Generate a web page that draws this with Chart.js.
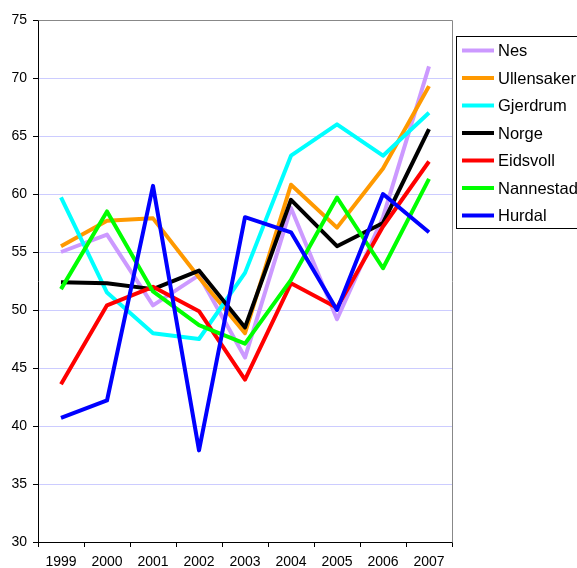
<!DOCTYPE html>
<html>
<head>
<meta charset="utf-8">
<script src="https://cdn.jsdelivr.net/npm/chart.js@4"></script>
<style>
  html, body { margin: 0; padding: 0; background: #fff; overflow: hidden; }
  #wrap { width: 577px; height: 568px; }
</style>
</head>
<body>
<div id="wrap"><canvas id="chart" width="577" height="568"></canvas></div>
<script>
// Years on the x axis
const years = ["1999", "2000", "2001", "2002", "2003", "2004", "2005", "2006", "2007"];

// One array per municipality
const nes        = [55.0, 56.5, 50.4, 53.0, 45.9, 58.8, 49.2, 58.0, 71.0];
const ullensaker = [55.5, 57.7, 57.9, 52.8, 48.0, 60.8, 57.1, 62.2, 69.3];
const gjerdrum   = [59.7, 51.5, 48.0, 47.5, 53.2, 63.3, 66.0, 63.3, 67.0];
const norge      = [52.4, 52.3, 51.8, 53.4, 48.5, 59.5, 55.5, 57.5, 65.6];
const eidsvoll   = [43.6, 50.4, 52.0, 49.9, 44.0, 52.3, 50.2, 57.2, 62.8];
const nannestad  = [51.8, 58.5, 51.6, 48.7, 47.1, 52.6, 59.7, 53.6, 61.3];
const hurdal     = [40.7, 42.2, 60.7, 37.9, 58.0, 56.7, 50.0, 60.0, 56.7];

const seriesNames = ["Nes", "Ullensaker", "Gjerdrum", "Norge", "Eidsvoll", "Nannestad", "Hurdal"];
const seriesData = [nes, ullensaker, gjerdrum, norge, eidsvoll, nannestad, hurdal];
const seriesColors = ["#cc99ff", "#ff9900", "#00ffff", "#000000", "#ff0000", "#00ff00", "#0000ff"];

const FONT = "'Liberation Sans', Arial, sans-serif";

// Gray frame on the top and right of the plot area
const frame = {
  id: "frame",
  afterDraw(chart) {
    const { ctx, chartArea: a } = chart;
    ctx.save();
    ctx.strokeStyle = "#888888";
    ctx.lineWidth = 1;
    ctx.beginPath();
    ctx.moveTo(Math.round(a.left) + 0.5, Math.round(a.top) + 0.5);
    ctx.lineTo(Math.round(a.right) + 0.5, Math.round(a.top) + 0.5);
    ctx.lineTo(Math.round(a.right) + 0.5, Math.round(a.bottom) + 0.5);
    ctx.stroke();
    ctx.restore();
  }
};

// Boxed legend to the right of the plot
const boxLegend = {
  id: "boxLegend",
  afterDraw(chart) {
    const ctx = chart.ctx;
    ctx.save();
    ctx.strokeStyle = "#000";
    ctx.lineWidth = 1;
    ctx.strokeRect(456.5, 36.5, 200, 192);
    ctx.font = "16.5px " + FONT;
    ctx.textBaseline = "middle";
    ctx.fillStyle = "#000";
    chart.data.datasets.forEach((ds, i) => {
      const y = 50.5 + i * 27.5;
      ctx.strokeStyle = ds.borderColor;
      ctx.lineWidth = 4;
      ctx.beginPath();
      ctx.moveTo(462, y);
      ctx.lineTo(494, y);
      ctx.stroke();
      ctx.fillText(ds.label, 498, y + 1);
    });
    ctx.restore();
  }
};

new Chart(document.getElementById("chart"), {
  type: "line",
  data: {
    labels: years,
    datasets: seriesNames.map((name, i) => ({
      label: name,
      data: seriesData[i],
      borderColor: seriesColors[i],
      backgroundColor: seriesColors[i],
      borderWidth: 4,
      borderJoinStyle: "round",
      pointRadius: 0,
      tension: 0,
      fill: false,
      order: seriesNames.length - i
    }))
  },
  options: {
    responsive: false,
    animation: false,
    layout: { padding: { top: 20, right: 125, bottom: 0, left: 0 } },
    plugins: {
      legend: { display: false },
      tooltip: { enabled: false }
    },
    scales: {
      x: {
        offset: true,
        grid: {
          offset: true,
          drawOnChartArea: false,
          color: "#000",
          tickLength: 5
        },
        border: { display: true, color: "#000", width: 1 },
        ticks: {
          color: "#000",
          font: { family: FONT, size: 14 },
          padding: 7,
          maxRotation: 0,
          autoSkip: false
        },
        afterFit(scale) { scale.height = 26; }
      },
      y: {
        min: 30,
        max: 75,
        ticks: {
          stepSize: 5,
          color: "#000",
          font: { family: FONT, size: 14 },
          padding: 6
        },
        grid: {
          color: "#ccccff",
          tickColor: "#000",
          tickLength: 5
        },
        border: { display: true, color: "#000", width: 1 },
        afterFit(scale) { scale.width = 38; }
      }
    }
  },
  plugins: [frame, boxLegend]
});
</script>
</body>
</html>
